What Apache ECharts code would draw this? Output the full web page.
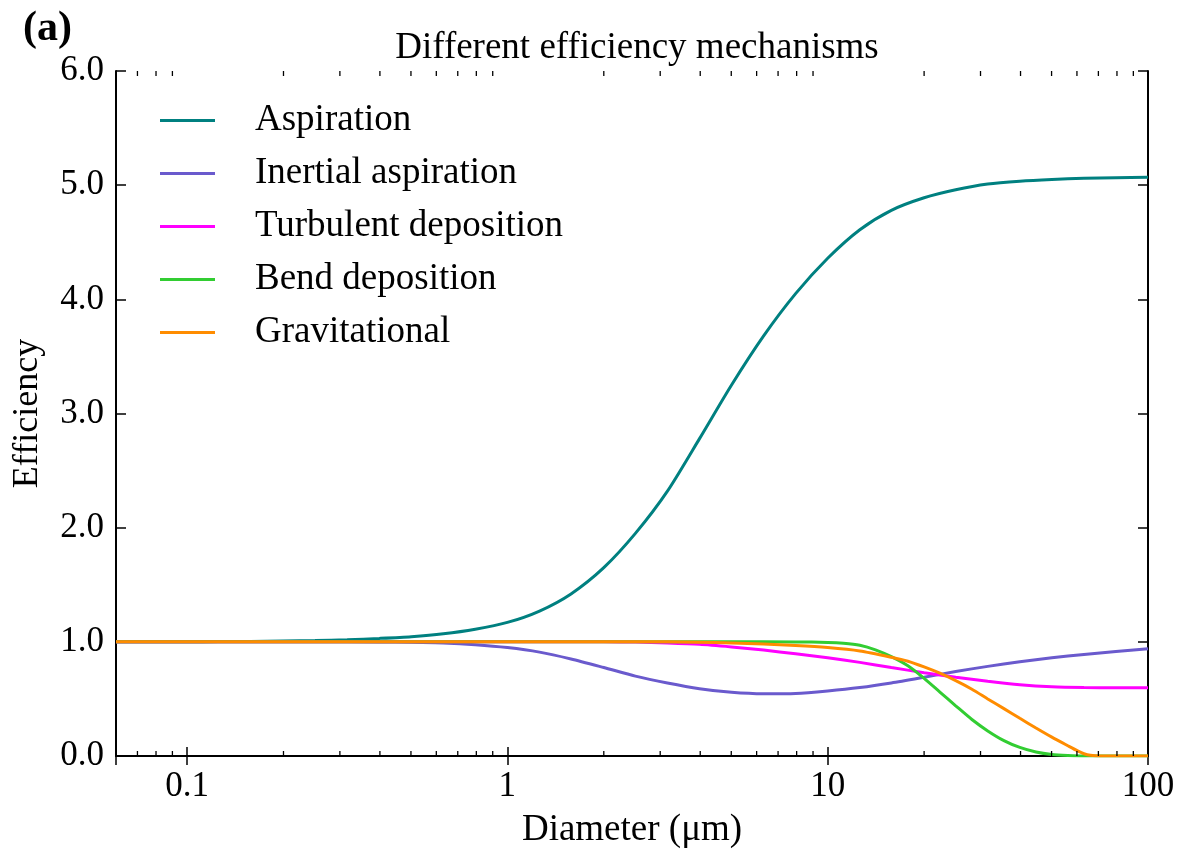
<!DOCTYPE html>
<html>
<head>
<meta charset="utf-8">
<script src="https://cdn.jsdelivr.net/npm/echarts@6/dist/echarts.min.js"></script>
<style>html,body{margin:0;padding:0;background:#fff}#c{width:1189px;height:855px}</style>
</head>
<body>
<div id="c"></div>
<script>
const FONT = 'Liberation Serif, Times New Roman, serif';
const seriesNames = ['Aspiration', 'Inertial aspiration', 'Turbulent deposition', 'Bend deposition', 'Gravitational'];
const seriesColors = ['#008080', '#6a5acd', '#ff00ff', '#32cd32', '#ff8c00'];

// Diameter values (µm) read at roughly 0.1-decade spacing
const aspirationX = [0.06,0.079,0.1,0.126,0.158,0.2,0.251,0.316,0.398,0.501,0.631,0.794,1.0,1.26,1.58,2.0,2.51,3.16,3.98,5.01,6.31,7.94,10,12.6,15.8,20,25.1,31.6,39.8,50.1,63.1,79.4,100];
const aspirationY = [1.0,1.0,1.001,1.002,1.004,1.007,1.011,1.018,1.03,1.045,1.07,1.11,1.17,1.27,1.42,1.65,1.95,2.32,2.78,3.25,3.68,4.05,4.36,4.61,4.78,4.89,4.96,5.01,5.035,5.05,5.06,5.066,5.07];

const inertialX = [0.06,0.1,0.158,0.251,0.398,0.501,0.631,0.794,1.0,1.26,1.58,2.0,2.51,3.16,3.98,5.01,6.31,7.94,10,12.6,15.8,20,25.1,31.6,39.8,50.1,63.1,79.4,100];
const inertialY = [1.0,1.0,1.0,1.0,0.999,0.996,0.99,0.975,0.95,0.91,0.85,0.775,0.70,0.64,0.59,0.558,0.545,0.548,0.57,0.60,0.64,0.69,0.74,0.785,0.825,0.86,0.89,0.915,0.94];

const turbulentX = [0.06,0.1,0.251,0.631,1.0,1.58,2.0,2.51,3.16,3.98,5.01,6.31,7.94,10,12.6,15.8,20,25.1,31.6,39.8,50.1,63.1,79.4,100];
const turbulentY = [1.0,1.0,1.0,1.0,1.0,1.0,1.0,0.998,0.99,0.978,0.955,0.928,0.895,0.86,0.82,0.775,0.73,0.69,0.655,0.625,0.607,0.6,0.598,0.598];

const bendX = [0.06,0.1,0.251,0.631,1.0,2.51,5.01,7.94,10,11.2,12.6,14.1,15.8,17.8,20,22.4,25.1,28.2,31.6,35.5,39.8,44.7,50.1,56.2,63.1,79.4,100];
const bendY = [1.0,1.0,1.0,1.0,1.0,1.0,1.0,0.999,0.995,0.988,0.97,0.93,0.87,0.79,0.68,0.56,0.44,0.32,0.22,0.135,0.075,0.035,0.013,0.004,0.0,0.0,0.0];

const gravX = [0.06,0.1,0.251,0.631,1.0,2.51,3.16,3.98,5.01,6.31,7.94,10,12.6,15.8,17.8,20,22.4,25.1,28.2,31.6,35.5,39.8,44.7,50.1,56.2,60.3,63.1,66.1,70.8,79.4,100];
const gravY = [1.0,1.0,1.0,1.0,1.0,1.0,1.0,0.997,0.99,0.98,0.968,0.95,0.92,0.865,0.83,0.78,0.725,0.66,0.585,0.5,0.415,0.33,0.245,0.165,0.09,0.045,0.02,0.006,0.0,0.0,0.0];

const xs = [aspirationX, inertialX, turbulentX, bendX, gravX];
const ys = [aspirationY, inertialY, turbulentY, bendY, gravY];

const minorTicks = [0.07,0.08,0.09,0.2,0.3,0.4,0.5,0.6,0.7,0.8,0.9,2,3,4,5,6,7,8,9,20,30,40,50,60,70,80,90];

const chart = echarts.init(document.getElementById('c'));
const lineSeries = seriesNames.map((n, i) => ({
  name: n, type: 'line', showSymbol: false, smooth: 0.25,
  data: xs[i].map((x, j) => [x, ys[i][j]]),
  lineStyle: {color: seriesColors[i], width: 3},
  itemStyle: {color: seriesColors[i]},
  z: 3 + i
}));

const axisCommon = {
  axisLine: {show: true, lineStyle: {color: '#000', width: 2}},
  splitLine: {show: false}
};

chart.setOption({
  animation: false,
  backgroundColor: '#fff',
  title: [
    {text: 'Different efficiency mechanisms', left: 632, top: 25, textAlign: 'center',
     textStyle: {fontFamily: FONT, fontSize: 37, fontWeight: 'normal', color: '#000'}},
    {text: '(a)', left: 18, top: 3,
     textStyle: {fontFamily: FONT, fontSize: 42, fontWeight: 'bold', color: '#000'}}
  ],
  grid: {left: 116, right: 41, top: 71, bottom: 99, containLabel: false, outerBoundsMode: 'none'},
  legend: {
    orient: 'vertical', left: 155, top: 97, icon: 'rect', itemWidth: 55, itemHeight: 3,
    itemGap: 16, data: seriesNames,
    textStyle: {fontFamily: FONT, fontSize: 37, color: '#000', lineHeight: 37, padding: [0, 0, 0, 35]}
  },
  xAxis: [
    Object.assign({
      type: 'log', logBase: 10, min: 0.06, max: 100, position: 'bottom',
      name: 'Diameter (μm)', nameLocation: 'middle', nameGap: 56,
      nameTextStyle: {fontFamily: FONT, fontSize: 37, color: '#000'},
      axisTick: {show: true, inside: true, length: 9, lineStyle: {color: '#000', width: 1.5}},
      axisLabel: {fontFamily: FONT, fontSize: 35, color: '#000', margin: 13, showMinLabel: false,
        formatter: v => { const l = Math.log10(v); return Math.abs(l - Math.round(l)) < 1e-6 ? String(+Number(v).toPrecision(3)) : ''; }}
    }, axisCommon),
    Object.assign({
      type: 'log', logBase: 10, min: 0.06, max: 100, position: 'top',
      axisTick: {show: true, inside: true, length: 9, lineStyle: {color: '#000', width: 1.5}},
      axisLabel: {show: false}
    }, axisCommon)
  ],
  yAxis: [
    Object.assign({
      type: 'value', min: 0, max: 6, interval: 1, position: 'left',
      name: 'Efficiency', nameLocation: 'middle', nameGap: 70,
      nameTextStyle: {fontFamily: FONT, fontSize: 36, color: '#000'},
      axisTick: {show: true, inside: true, length: 10, lineStyle: {color: '#000', width: 1.5}},
      axisLabel: {fontFamily: FONT, fontSize: 35, color: '#000', margin: 12, formatter: v => v.toFixed(1)}
    }, axisCommon),
    Object.assign({
      type: 'value', min: 0, max: 6, interval: 1, position: 'right',
      axisTick: {show: true, inside: true, length: 10, lineStyle: {color: '#000', width: 1.5}},
      axisLabel: {show: false}
    }, axisCommon)
  ],
  series: lineSeries.concat([{
    type: 'custom', name: 'minorTicks', xAxisIndex: 0, yAxisIndex: 0, silent: true, z: 10,
    data: minorTicks.map(v => [v, 0]),
    renderItem: (params, api) => {
      const b = api.coord([api.value(0), 0]);
      const t = api.coord([api.value(0), 6]);
      const st = {stroke: '#000', lineWidth: 1.3};
      return {type: 'group', children: [
        {type: 'line', shape: {x1: b[0], y1: b[1], x2: b[0], y2: b[1] - 5}, style: st},
        {type: 'line', shape: {x1: t[0], y1: t[1], x2: t[0], y2: t[1] + 5}, style: st}
      ]};
    }
  }])
});
</script>
</body>
</html>
